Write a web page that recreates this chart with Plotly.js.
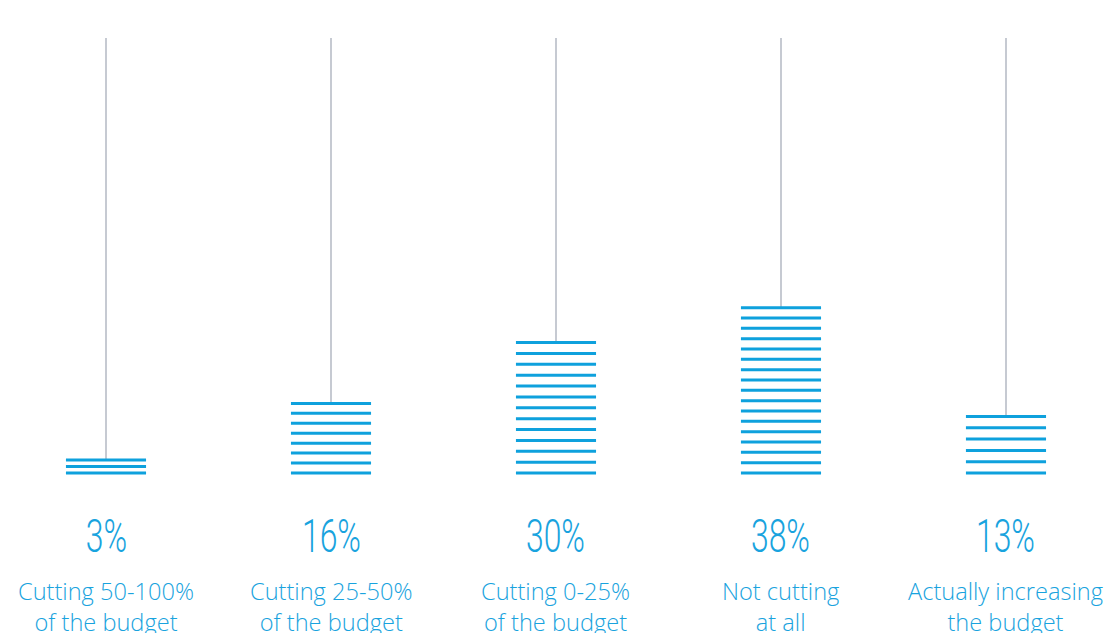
<!DOCTYPE html>
<html><head><meta charset="utf-8">
<script src="https://cdn.plot.ly/plotly-3.0.1.min.js"></script>
<style>html,body{margin:0;padding:0;background:#fff}#chart{width:1111px;height:633px}</style>
</head><body><div id="chart"></div>
<script>
const categories = ["Cutting 50-100%<br>of the budget", "Cutting 25-50%<br>of the budget", "Cutting 0-25%<br>of the budget", "Not cutting<br>at all", "Actually increasing<br>the budget"];
const values = [3, 16, 30, 38, 13];
const lineCounts = [3, 8, 13, 17, 6];
const valueLabels = ["3%", "16%", "30%", "38%", "13%"];
const stemTop = 100;

const BLUE = '#0ea1dd';
const TEXTBLUE = '#19a3de';
const GRAY = '#c6cad2';
const HALF = 0.178;
const PXU = 4.35, BASE = 473;
const pxToY = p => (BASE - p) / PXU;

const stemX = [], stemY = [], barX = [], barY = [];
values.forEach((v, k) => {
  stemX.push(k, k, null); stemY.push(v, stemTop, null);
  const n = lineCounts[k];
  for (let i = 0; i < n; i++) {
    const y = v * i / (n - 1);
    barX.push(k - HALF, k + HALF, null); barY.push(y, y, null);
  }
});

const traces = [
  {x: stemX, y: stemY, mode: 'lines', line: {color: GRAY, width: 2}, hoverinfo: 'skip', showlegend: false},
  {x: barX, y: barY, mode: 'lines', line: {color: BLUE, width: 3}, hoverinfo: 'skip', showlegend: false}
];

const annotations = [];
values.forEach((v, k) => {
  annotations.push({x: k, y: pxToY(535), xref: 'x', yref: 'y', text: valueLabels[k], showarrow: false,
    font: {family: 'Roboto', size: 47, color: TEXTBLUE, weight: 300}});
  annotations.push({x: k, y: pxToY(606), xref: 'x', yref: 'y', text: categories[k], showarrow: false,
    font: {family: 'Open Sans', size: 23.6, color: TEXTBLUE, weight: 300}});
});

const layout = {
  width: 1111, height: 633,
  margin: {l: 0, r: 0, t: 0, b: 0},
  paper_bgcolor: '#fff', plot_bgcolor: '#fff',
  xaxis: {range: [-0.4711, 4.4667], visible: false, fixedrange: true},
  yaxis: {range: [pxToY(633), pxToY(0)], visible: false, fixedrange: true},
  annotations: annotations,
  showlegend: false
};
Plotly.newPlot('chart', traces, layout, {staticPlot: true}).then(() => {
  const anns = document.querySelectorAll('#chart .annotation');
  anns.forEach((a, i) => {
    if (i % 2 === 0) {
      const t = a.querySelector('text');
      if (t) {
        t.style.transformBox = 'fill-box';
        t.style.transformOrigin = 'center';
        t.style.transform = 'scaleX(0.68)';
      }
    }
  });
});
</script></body></html>
